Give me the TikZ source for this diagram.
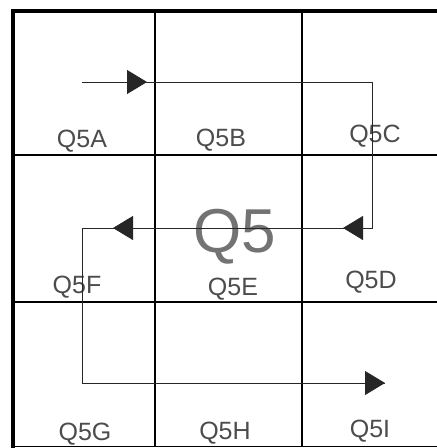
\documentclass[tikz,border=0pt]{standalone}
\usepackage{fontspec}
\setmainfont{Liberation Sans}
\usetikzlibrary{arrows.meta}
\begin{document}
\begin{tikzpicture}[x=1pt,y=-1pt]
% définition des paramètres
\tikzstyle cadrequadrant=[color=black,line width=4pt]
\tikzstyle grillequadrant=[color=black,line width=1.6pt]
\tikzstyle cheminquadrant=[color=black!85,line width=0.9pt]
\tikzstyle flechequadrant=[cheminquadrant,-{Triangle[length=20pt,width=24pt]}]
\tikzstyle nomquadrant=[color=black!70,inner sep=0pt,anchor=base,font=\fontsize{25}{25}\selectfont]
\tikzstyle grandquadrant=[color=black!55,inner sep=0pt,anchor=base,font=\fontsize{62}{62}\selectfont]
\newcommand{\qgauche}{13}  % bord gauche
\newcommand{\qhaut}{11}    % bord du haut
\newcommand{\qdroite}{437} % bord droit (coupé)
\newcommand{\qbas}{446.5}  % bord du bas
\useasboundingbox (0,0) rectangle (437,448);
% la grille
\foreach \x in {155,302}
    \draw[grillequadrant] (\x,\qhaut) -- (\x,\qbas);
\foreach \y in {155,302}
    \draw[grillequadrant] (\qgauche,\y) -- (\qdroite,\y);
\draw[color=black,line width=1.2pt] (\qgauche,\qbas) -- (\qdroite,\qbas);
% le cadre
\draw[cadrequadrant] (\qgauche,448) -- (\qgauche,\qhaut) -- (\qdroite,\qhaut);
% les noms des cases
\node[nomquadrant] (q5a) at (82,147) {Q5A};
\node[nomquadrant] (q5b) at (221,146) {Q5B};
\node[nomquadrant] (q5c) at (375,142) {Q5C};
\node[nomquadrant] (q5f) at (77,293) {Q5F};
\node[nomquadrant] (q5e) at (233,295) {Q5E};
\node[nomquadrant] (q5d) at (371,288) {Q5D};
\node[nomquadrant] (q5g) at (85,440) {Q5G};
\node[nomquadrant] (q5h) at (225,439) {Q5H};
\node[nomquadrant] (q5i) at (370,437) {Q5I};
\node[grandquadrant] (q5) at (235,252) {Q5};
% le chemin
\coordinate (depart) at (82,82);
\coordinate (c1) at (372,82);
\coordinate (c2) at (372,228);
\coordinate (c3) at (82,228);
\coordinate (c4) at (82,383);
\coordinate (arrivee) at (385,383);
\coordinate (f1) at (147,82);
\coordinate (f2) at (343,228);
\coordinate (f3) at (113,228);
\draw[cheminquadrant] (depart) -- (c1) -- (c2) -- (c3) -- (c4) -- (arrivee);
% les flèches
\draw[flechequadrant] (depart) -- (f1);
\draw[flechequadrant] (c2) -- (f2);
\draw[flechequadrant] (c2) -- (f3);
\draw[flechequadrant] (c4) -- (arrivee);
\end{tikzpicture}
\end{document}
